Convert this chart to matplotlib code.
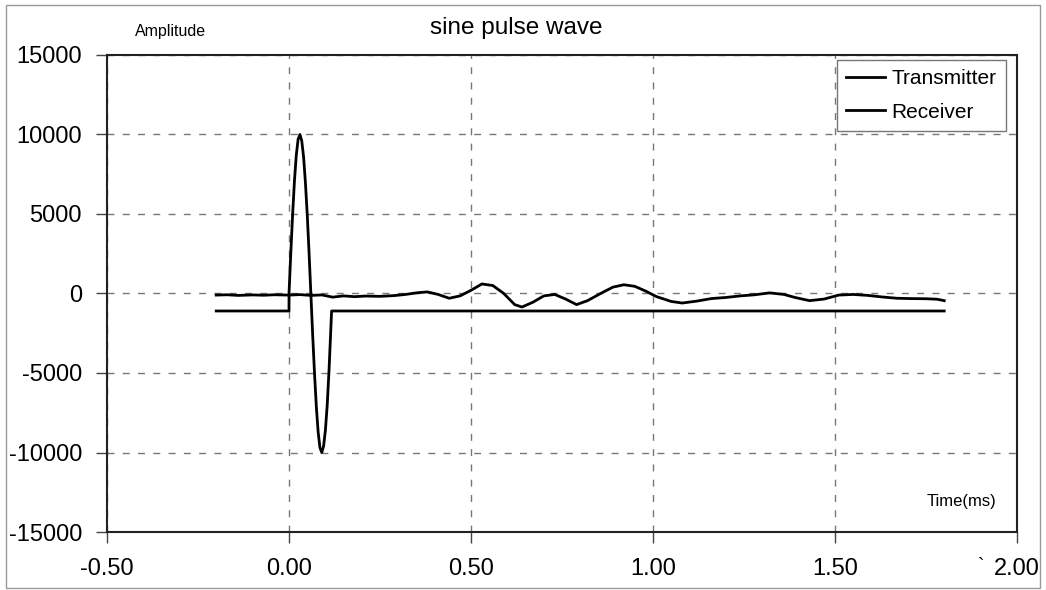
import matplotlib.pyplot as plt
from matplotlib.patches import Rectangle

plt.rcParams["font.family"] = ["Liberation Sans", "DejaVu Sans"]

# Transmitter: flat baseline, one sine cycle starting at t = 0, back to baseline
tx_time = [-0.2, 0.0, 0.0, 0.005, 0.01, 0.015, 0.02, 0.025, 0.03, 0.035, 0.04,
           0.045, 0.05, 0.055, 0.06, 0.065, 0.07, 0.075, 0.08, 0.085, 0.09,
           0.095, 0.1, 0.105, 0.11, 0.117, 1.8]
tx_amp = [-1100, -1100, 0, 2600, 5000, 7100, 8700, 9700, 10000, 9600, 8600,
          7000, 5000, 2600, 0, -2600, -5000, -7100, -8700, -9700, -10000,
          -9600, -8600, -7000, -4800, -1100, -1100]

# Receiver: small noisy response around zero
rx_time = [-0.2, -0.17, -0.14, -0.1, -0.07, -0.04, 0.0, 0.03, 0.06, 0.09, 0.12,
           0.15, 0.18, 0.21, 0.25, 0.29, 0.32, 0.35, 0.38, 0.41, 0.44, 0.47,
           0.5, 0.53, 0.56, 0.59, 0.62, 0.64, 0.67, 0.7, 0.73, 0.76, 0.79,
           0.82, 0.86, 0.89, 0.92, 0.95, 0.98, 1.01, 1.05, 1.08, 1.12, 1.16,
           1.2, 1.24, 1.28, 1.32, 1.36, 1.39, 1.43, 1.47, 1.51, 1.55, 1.59,
           1.63, 1.67, 1.71, 1.75, 1.78, 1.8]
rx_amp = [-100, -80, -120, -90, -110, -80, -100, -70, -120, -90, -230,
          -150, -200, -160, -180, -130, -60, 40, 100, -60, -300, -150,
          200, 600, 500, 0, -700, -850, -550, -150, -60, -350, -700,
          -450, 50, 400, 550, 450, 150, -200, -500, -600, -480, -320,
          -250, -150, -80, 40, -60, -250, -450, -350, -100, -60, -120,
          -220, -300, -320, -330, -360, -450]

x_ticks = [-0.5, 0.0, 0.5, 1.0, 1.5, 2.0]
y_ticks = [-15000, -10000, -5000, 0, 5000, 10000, 15000]

fig = plt.figure(figsize=(10.46, 5.9), dpi=100)
ax = fig.add_axes([0.1023, 0.0983, 0.8700, 0.8085])

ax.plot(tx_time, tx_amp, color="black", lw=2.0, label="Transmitter")
ax.plot(rx_time, rx_amp, color="black", lw=2.0, label="Receiver")

ax.set_xlim(-0.5, 2.0)
ax.set_ylim(-15000, 15000)
ax.set_xticks(x_ticks)
ax.set_xticklabels([f"{v:.2f}" for v in x_ticks])
ax.set_yticks(y_ticks)
ax.set_yticklabels([str(v) for v in y_ticks])
ax.tick_params(axis="both", labelsize=17, length=8, width=1, color="#444444")
ax.tick_params(axis="y", pad=10)
ax.tick_params(axis="x", pad=11)

ax.grid(True, color="#777777", linestyle=(0, (5, 6)), linewidth=1.0)
for s in ax.spines.values():
    s.set_color("#222222")
    s.set_linewidth(1.5)

leg = ax.legend(loc="upper right", bbox_to_anchor=(0.988, 0.99), fontsize=15,
                frameon=True, fancybox=False, handlelength=1.9, handletextpad=0.3,
                labelspacing=0.7, borderpad=0.45, borderaxespad=0)
leg.get_frame().set_edgecolor("#555555")
leg.get_frame().set_linewidth(1.0)

fig.text(0.494, 0.953, "sine pulse wave", fontsize=17.5, ha="center", va="center")
fig.text(0.129, 0.946, "Amplitude", fontsize=11.5, ha="left", va="center")
ax.text(0.9385, 0.063, "Time(ms)", fontsize=12, ha="center", va="center",
        transform=ax.transAxes)
fig.text(0.938, 0.04, "`", fontsize=14, ha="center", va="center")

fig.patches.append(Rectangle((0.006, 0.004), 0.988, 0.988, transform=fig.transFigure,
                             fill=False, edgecolor="#999999", linewidth=1.0))

fig.savefig("out.png", dpi=100)
